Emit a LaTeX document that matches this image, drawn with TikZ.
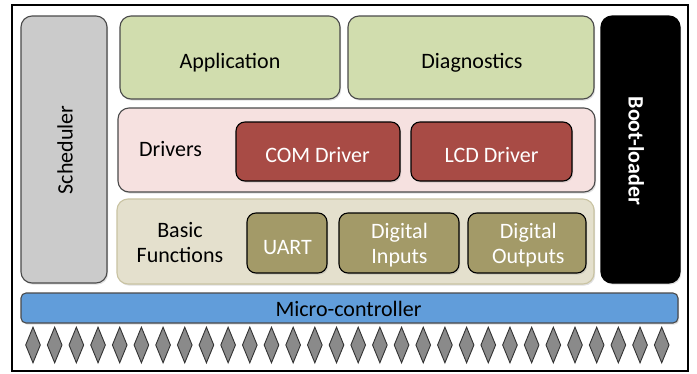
\documentclass[tikz,border=0pt]{standalone}
\usepackage{fontspec}
\setmainfont{Carlito}
\usetikzlibrary{shapes.geometric,shadows}

\definecolor{schedfill}{HTML}{CBCBCB}
\definecolor{appfill}{HTML}{D1DDAE}
\definecolor{drvfill}{HTML}{F6E1E0}
\definecolor{drvbox}{HTML}{A84B45}
\definecolor{basfill}{HTML}{E4E0CD}
\definecolor{basedge}{HTML}{C9C3A2}
\definecolor{basbox}{HTML}{A39A68}
\definecolor{mcufill}{HTML}{619DDA}
\definecolor{pinfill}{HTML}{8A8A8A}
\definecolor{edgegray}{HTML}{4A4A4A}

\newcommand{\twolines}[2]{\begin{tabular}[b]{@{}c@{}}#1\\#2\end{tabular}}

\tikzset{
  txt/.style={font=\fontsize{22}{25}\selectfont, inner sep=0pt, anchor=base},
  wtxt/.style={txt, text=white},
  block/.style={draw=edgegray, line width=1.1pt, rounded corners=11pt, inner sep=0pt,
                drop shadow={shadow xshift=1.2pt, shadow yshift=-1.6pt, opacity=0.25}},
  sched/.style={block, fill=schedfill},
  layer/.style={block, fill=appfill},
  drvlayer/.style={block, fill=drvfill},
  baslayer/.style={block, draw=basedge, fill=basfill},
  drvunit/.style={block, draw=black, fill=drvbox, rounded corners=9pt},
  basunit/.style={block, draw=black, fill=basbox, rounded corners=9pt},
  boot/.style={block, draw=black, fill=black},
  mcu/.style={block, draw=edgegray, fill=mcufill, rounded corners=5pt},
  pin/.style={diamond, draw=black!80, line width=0.9pt, fill=pinfill, inner sep=0pt,
              minimum width=15pt, minimum height=36pt}
}

\begin{document}
\begin{tikzpicture}[x=1pt,y=-1pt]
  \useasboundingbox (0,0) rectangle (697,373);
  \fill[white] (0,0) rectangle (697,373);

  % outer frame
  \draw[line width=1.8pt] (12,5) rectangle (688,371);

  % side columns
  \node[sched, minimum width=86pt, minimum height=267pt] (sched) at (64,149.5) {};
  \node[txt, rotate=90] (schedTxt) at (72.7,150) {Scheduler};
  \node[boot, minimum width=79pt, minimum height=267pt] (boot) at (640.5,149.5) {};
  \node[wtxt, rotate=-90, font=\fontsize{22}{25}\selectfont\bfseries] (bootTxt) at (628.5,151) {Boot-loader};

  % application layer
  \node[layer, minimum width=220pt, minimum height=83pt] (app) at (230,57.5) {};
  \node[txt] (appTxt) at (230,68.3) {Application};
  \node[layer, minimum width=246pt, minimum height=83pt] (diag) at (471,57.5) {};
  \node[txt] (diagTxt) at (472,68.3) {Diagnostics};

  % drivers layer
  \node[drvlayer, minimum width=477pt, minimum height=84pt] (drivers) at (356.5,150) {};
  \node[txt] (drvTxt) at (170.5,156) {Drivers};
  \node[drvunit, minimum width=164pt, minimum height=59pt] (com) at (318,151.5) {};
  \node[wtxt] (comTxt) at (317.5,162.3) {COM Driver};
  \node[drvunit, minimum width=161pt, minimum height=59pt] (lcd) at (491.5,151.5) {};
  \node[wtxt] (lcdTxt) at (491.5,162.3) {LCD Driver};

  % basic functions layer
  \node[baslayer, minimum width=477pt, minimum height=85pt] (basic) at (355.5,241.5) {};
  \node[txt] (basTxt) at (180,262.3) {\twolines{Basic}{Functions}};
  \node[basunit, minimum width=80pt, minimum height=60pt] (uart) at (287,243) {};
  \node[wtxt] (uartTxt) at (287.5,254) {UART};
  \node[basunit, minimum width=120pt, minimum height=60pt] (din) at (399,243) {};
  \node[wtxt] (dinTxt) at (399.5,263.8) {\twolines{Digital}{Inputs}};
  \node[basunit, minimum width=118pt, minimum height=60pt] (dout) at (527,243) {};
  \node[wtxt] (doutTxt) at (528.3,263.8) {\twolines{Digital}{Outputs}};

  % micro-controller and its pins
  \node[mcu, minimum width=657pt, minimum height=30pt] (mcu) at (349.5,308) {};
  \node[txt] (mcuTxt) at (348.5,316.5) {Micro-controller};
  \foreach \k in {0,...,29} {
    \node[pin] (pin\k) at ({33+21.68*\k},345) {};
  }
\end{tikzpicture}
\end{document}
